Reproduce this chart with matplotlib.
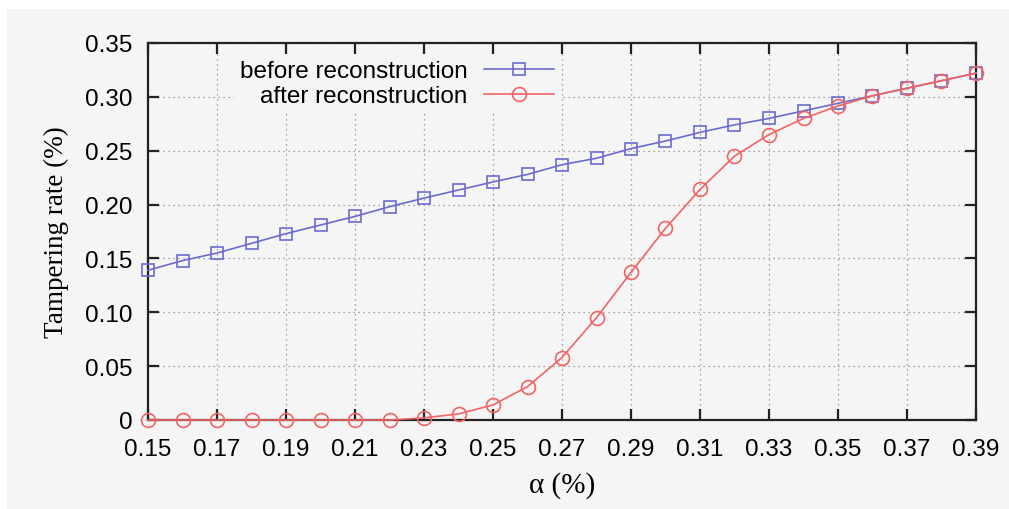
import matplotlib
matplotlib.use("Agg")
import matplotlib.pyplot as plt
from matplotlib.patches import Rectangle
from matplotlib.ticker import FuncFormatter

alpha = [0.15, 0.16, 0.17, 0.18, 0.19, 0.20, 0.21, 0.22, 0.23, 0.24, 0.25, 0.26,
         0.27, 0.28, 0.29, 0.30, 0.31, 0.32, 0.33, 0.34, 0.35, 0.36, 0.37, 0.38, 0.39]
before = [0.139, 0.148, 0.155, 0.164, 0.173, 0.181, 0.189, 0.198, 0.206, 0.2135, 0.221, 0.228,
          0.237, 0.243, 0.252, 0.259, 0.267, 0.274, 0.280, 0.287, 0.294, 0.301, 0.308, 0.315, 0.322]
after = [0.0, 0.0, 0.0, 0.0, 0.0, 0.0, 0.0, 0.0, 0.002, 0.0056, 0.014, 0.031,
         0.058, 0.095, 0.137, 0.178, 0.214, 0.245, 0.265, 0.280, 0.2915, 0.301, 0.308, 0.315, 0.322]
xticks = [0.15, 0.17, 0.19, 0.21, 0.23, 0.25, 0.27, 0.29, 0.31, 0.33, 0.35, 0.37, 0.39]
yticks = [0, 0.05, 0.10, 0.15, 0.20, 0.25, 0.30, 0.35]

bg = '#f5f5f5'
sans = 'Liberation Sans'
serif = 'Liberation Serif'

fig = plt.figure(figsize=(10.09, 5.10), dpi=100, facecolor='white')
fig.patches.append(Rectangle((7 / 1009, 0), 1, 500 / 510, transform=fig.transFigure,
                             facecolor=bg, edgecolor='none', zorder=-10))
ax = fig.add_axes([148 / 1009, 89 / 510, 828 / 1009, 377 / 510])
ax.set_facecolor(bg)

ax.plot(alpha, before, color='#6b6bcf', lw=1.2, marker='s', ms=9, mfc='none',
        mec='#6b6bcf', mew=1.2, label='before reconstruction', clip_on=False, zorder=3)
ax.plot(alpha, after, color='#f26464', lw=1.2, marker='o', ms=10, mfc='none',
        mec='#f26464', mew=1.2, label='after reconstruction', clip_on=False, zorder=4)

ax.set_xlim(0.15, 0.39)
ax.set_ylim(0, 0.35)
ax.set_xticks(xticks)
ax.set_yticks(yticks)
ax.xaxis.set_major_formatter(FuncFormatter(lambda v, p: '%.2f' % v))
ax.yaxis.set_major_formatter(FuncFormatter(lambda v, p: '0' if abs(v) < 1e-9 else '%.2f' % v))
ax.tick_params(direction='in', length=8, width=1.6, top=True, right=True,
               labelsize=17.5, color='#222222')
ax.tick_params(axis='x', pad=13)
ax.tick_params(axis='y', pad=11)
for lab in ax.get_xticklabels() + ax.get_yticklabels():
    lab.set_fontfamily(sans)
for s in ax.spines.values():
    s.set_linewidth(1.6)
    s.set_color('#222222')

ax.grid(True, linestyle=(0, (1, 3)), color='#888888', lw=0.9)
ax.set_axisbelow(True)

ax.set_xlabel('α (%)', fontfamily=serif, fontsize=21, labelpad=8)
ax.set_ylabel('Tampering rate (%)', fontfamily=serif, fontsize=19.5, labelpad=12)

leg = ax.legend(loc='upper right', bbox_to_anchor=(0.512, 1.003), markerfirst=False,
                frameon=True, facecolor=bg, edgecolor='none', framealpha=1,
                prop={'family': sans, 'size': 17.5}, handlelength=2.85, handletextpad=0.7,
                labelspacing=0.12, borderpad=0.25, fancybox=False)
for t in leg.get_texts():
    t.set_ha('right')
leg._legend_box.align = 'right'

fig.savefig('out.png', dpi=100, facecolor=fig.get_facecolor())
